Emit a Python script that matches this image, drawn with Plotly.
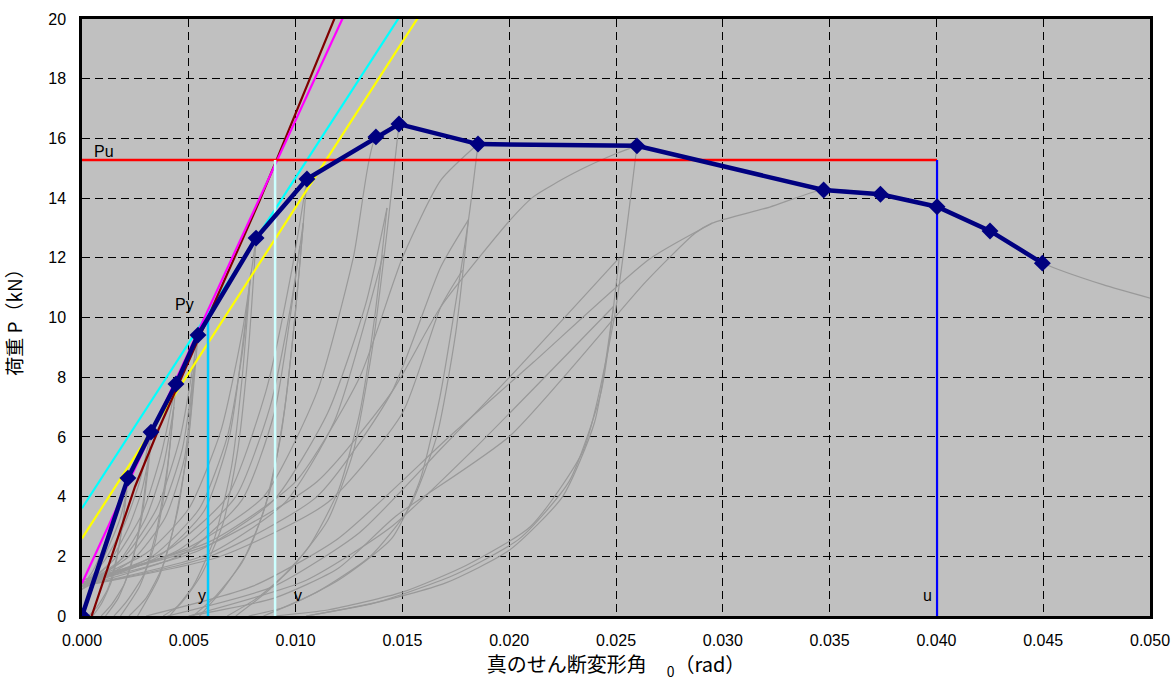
import plotly.graph_objects as go

# ---------------- data ----------------
# envelope (skeleton) curve
env_x = [0.0, 0.00215, 0.00323, 0.0044, 0.00543, 0.00815, 0.01053, 0.01376, 0.01484,
         0.01854, 0.02598, 0.03472, 0.03738, 0.04003, 0.04251, 0.04496]
env_p = [0.0, 4.62, 6.16, 7.77, 9.41, 12.66, 14.64, 16.05, 16.48,
         15.81, 15.75, 14.27, 14.13, 13.71, 12.90, 11.82]

# hysteresis branches (positive quadrant), grouped by amplitude level
lvl_a_x = [[0, 0.0005, 0.001, 0.0015, 0.00215], [0.00215, 0.0019, 0.0016, 0.0012, 0.0007, 0.0003],
           [0, 0.0007, 0.0013, 0.0018, 0.0021], [0.0021, 0.0018, 0.0014, 0.0009, 0.0005]]
lvl_a_p = [[1.0, 1.5, 2.3, 3.3, 4.62], [4.62, 3.1, 1.9, 0.9, 0.3, 0],
           [0.9, 1.5, 2.4, 3.3, 4.2], [4.2, 2.6, 1.2, 0.4, 0]]

lvl_b_x = [[0, 0.001, 0.002, 0.0027, 0.00323], [0.00323, 0.0029, 0.0025, 0.002, 0.0014, 0.0009],
           [0, 0.0012, 0.0022, 0.0028, 0.0032], [0.0032, 0.0028, 0.0023, 0.0017, 0.0011]]
lvl_b_p = [[1.0, 1.8, 3.1, 4.5, 6.16], [6.16, 4.0, 2.3, 1.1, 0.4, 0],
           [0.9, 1.7, 3.0, 4.2, 5.6], [5.6, 3.3, 1.7, 0.6, 0]]

lvl_c_x = [[0, 0.0015, 0.0028, 0.0037, 0.0044], [0.0044, 0.004, 0.0035, 0.0029, 0.0021, 0.0015],
           [0, 0.0017, 0.003, 0.0038, 0.0043], [0.0043, 0.0039, 0.0034, 0.0027, 0.0018]]
lvl_c_p = [[1.0, 1.9, 3.4, 5.4, 7.77], [7.77, 5.0, 2.9, 1.4, 0.5, 0],
           [0.9, 1.8, 3.3, 5.0, 7.0], [7.0, 4.3, 2.4, 1.0, 0]]

lvl_d_x = [[0, 0.002, 0.0035, 0.0046, 0.00543], [0.00543, 0.005, 0.0045, 0.0038, 0.003, 0.0022],
           [0, 0.0022, 0.0037, 0.0047, 0.0053], [0.0053, 0.0049, 0.0043, 0.0036, 0.0026],
           [0, 0.0024, 0.0039, 0.0048, 0.0052]]
lvl_d_p = [[1.0, 2.0, 3.6, 6.0, 9.41], [9.41, 6.0, 3.6, 1.7, 0.6, 0],
           [1.0, 2.0, 3.5, 5.6, 8.6], [8.6, 5.4, 3.0, 1.3, 0],
           [0.9, 1.9, 3.3, 5.3, 8.1]]

lvl_e_x = [[0, 0.003, 0.005, 0.0065, 0.0075, 0.00815], [0.00815, 0.0078, 0.0073, 0.0066, 0.0056, 0.0046, 0.0038],
           [0, 0.0033, 0.0055, 0.0068, 0.0075, 0.0079], [0.0079, 0.0075, 0.007, 0.0062, 0.0052, 0.0041],
           [0, 0.0036, 0.0057, 0.0069, 0.0078]]
lvl_e_p = [[1.1, 2.1, 3.6, 6.2, 9.5, 12.66], [12.66, 9.0, 5.6, 3.1, 1.4, 0.4, 0],
           [1.0, 2.0, 3.6, 6.0, 8.8, 11.5], [11.5, 8.0, 5.0, 2.6, 1.0, 0],
           [1.0, 2.0, 3.5, 6.0, 10.8]]

lvl_f_x = [[0, 0.004, 0.0068, 0.0086, 0.0098, 0.01053], [0.01053, 0.0101, 0.0095, 0.0088, 0.0078, 0.0066, 0.0055],
           [0, 0.0045, 0.0072, 0.0088, 0.0098, 0.01036], [0.01036, 0.0099, 0.0093, 0.0085, 0.0075, 0.0063, 0.0052],
           [0, 0.0048, 0.0075, 0.009, 0.0102]]
lvl_f_p = [[1.1, 2.2, 4.0, 7.5, 11.5, 14.64], [14.64, 11.0, 7.0, 4.2, 2.2, 0.9, 0],
           [1.1, 2.2, 4.0, 7.0, 10.5, 13.16], [13.16, 9.5, 6.0, 3.5, 1.8, 0.7, 0],
           [1.0, 2.1, 3.9, 6.8, 12.4]]

lvl_g_x = [[0, 0.005, 0.0085, 0.011, 0.0127, 0.01376, 0.01484],
           [0.01484, 0.0143, 0.0136, 0.0127, 0.0115, 0.0098, 0.0082, 0.0068],
           [0, 0.0055, 0.009, 0.0115, 0.0133, 0.01428],
           [0.01428, 0.0137, 0.013, 0.012, 0.0106, 0.0088, 0.0072],
           [0, 0.006, 0.0095, 0.0118, 0.0141]]
lvl_g_p = [[1.1, 2.3, 4.0, 7.5, 12.0, 16.05, 16.48],
           [16.48, 13.0, 9.0, 5.5, 3.2, 1.6, 0.6, 0],
           [1.1, 2.2, 3.9, 6.8, 10.5, 13.67],
           [13.67, 10.0, 6.8, 4.2, 2.3, 0.9, 0],
           [1.0, 2.1, 3.8, 6.5, 12.1]]

lvl_h_x = [[0, 0.006, 0.01, 0.013, 0.015, 0.0168, 0.01854],
           [0.01854, 0.0181, 0.01676, 0.0158, 0.0145, 0.012, 0.0095, 0.0078],
           [0, 0.006, 0.011, 0.0145, 0.0168, 0.01809],
           [0.01809, 0.0175, 0.0166, 0.0153, 0.0135, 0.011, 0.0085],
           [0, 0.0065, 0.0115, 0.015, 0.0168, 0.01782]]
lvl_h_p = [[1.2, 2.5, 4.5, 8.0, 12.0, 14.6, 15.81],
           [15.81, 13.3, 7.35, 4.5, 2.6, 1.2, 0.3, 0],
           [1.0, 2.0, 4.0, 7.5, 11.7, 13.27],
           [13.27, 9.5, 6.0, 3.6, 2.0, 0.8, 0],
           [1.0, 2.0, 3.8, 6.8, 10.36, 11.59]]

lvl_i_x = [[0, 0.006, 0.011, 0.0145, 0.0168, 0.02004, 0.02114, 0.02301, 0.02504, 0.02598],
           [0.02598, 0.0249, 0.02348, 0.021, 0.018, 0.015, 0.0115, 0.009],
           [0.004, 0.009, 0.013, 0.01676, 0.02004, 0.02515],
           [0.02515, 0.0243, 0.0228, 0.0205, 0.0175, 0.014, 0.0105],
           [0.005, 0.0105, 0.0145, 0.01832, 0.02488],
           [0.02488, 0.024, 0.0225, 0.02, 0.017, 0.0135, 0.0105]]
lvl_i_p = [[1.2, 2.4, 4.5, 7.5, 10.36, 13.26, 14.05, 14.83, 15.5, 15.75],
           [15.75, 9.92, 5.57, 3.0, 1.7, 0.8, 0.2, 0],
           [0, 1.0, 2.8, 5.57, 8.02, 12.0],
           [12.0, 7.5, 4.5, 2.6, 1.4, 0.5, 0],
           [0, 1.2, 3.0, 5.57, 10.37],
           [10.37, 6.5, 4.0, 2.2, 1.1, 0.4, 0]]

lvl_final_x = [[0.005, 0.009, 0.012, 0.0147, 0.02003, 0.0264, 0.0287, 0.0295, 0.0322, 0.0347,
                0.0374, 0.040, 0.0425, 0.045, 0.0478, 0.0503],
               [0.003, 0.008, 0.012, 0.01723, 0.02112, 0.02657, 0.0295]]
lvl_final_p = [[0, 0.6, 1.6, 3.35, 6.03, 11.2, 12.82, 13.16, 13.7, 14.28,
                14.13, 13.71, 12.9, 11.82, 11.1, 10.59],
               [0, 1.0, 2.6, 6.03, 8.49, 11.96, 13.16]]

# evaluation lines
pu_value = 15.28
py_value = 10.0
delta_y = 0.0059
delta_v = 0.00904
delta_u = 0.04003
maroon_x = [0.00045, 0.00248, 0.00357, 0.00833, 0.00911, 0.01192]
maroon_p = [0.0, 4.33, 6.23, 13.94, 15.28, 20.19]
magenta_x = [0.0, 0.01231]
magenta_p = [1.1, 20.19]
cyan_x = [0.0, 0.01497]
cyan_p = [3.61, 20.19]
yellow_x = [0.0, 0.01586]
yellow_p = [2.60, 20.19]

x_ticks = [0.000, 0.005, 0.010, 0.015, 0.020, 0.025, 0.030, 0.035, 0.040, 0.045, 0.050]
y_ticks = [0, 2, 4, 6, 8, 10, 12, 14, 16, 18, 20]

# ---------------- figure ----------------
fig = go.Figure()

grey = "#999999"
for xs_group, ps_group in [(lvl_a_x, lvl_a_p), (lvl_b_x, lvl_b_p), (lvl_c_x, lvl_c_p),
                           (lvl_d_x, lvl_d_p), (lvl_e_x, lvl_e_p), (lvl_f_x, lvl_f_p),
                           (lvl_g_x, lvl_g_p), (lvl_h_x, lvl_h_p), (lvl_i_x, lvl_i_p),
                           (lvl_final_x, lvl_final_p)]:
    for xs, ps in zip(xs_group, ps_group):
        fig.add_trace(go.Scatter(x=xs, y=ps, mode="lines",
                                 line=dict(color=grey, width=1.2, shape="spline", smoothing=0.6),
                                 showlegend=False, hoverinfo="skip"))

def seg(xs, ps, color, width=2.2):
    fig.add_trace(go.Scatter(x=xs, y=ps, mode="lines", line=dict(color=color, width=width),
                             showlegend=False, hoverinfo="skip"))

seg(cyan_x, cyan_p, "#00FFFF")
seg(yellow_x, yellow_p, "#FFFF00")
seg(maroon_x, maroon_p, "#800000")
seg(magenta_x, magenta_p, "#FF00FF")
seg([0, delta_u], [pu_value, pu_value], "#FF0000", 2.5)
seg([delta_u, delta_u], [0, pu_value], "#0000FF", 2.2)
seg([delta_y, delta_y], [0, py_value], "#00CCFF", 2.5)
seg([delta_v, delta_v], [0, pu_value], "#CCFFFF", 2.5)

# envelope
fig.add_trace(go.Scatter(x=env_x, y=env_p, mode="lines+markers",
                         line=dict(color="#000080", width=4.5),
                         marker=dict(symbol="diamond", size=13, color="#000080"),
                         showlegend=False, hoverinfo="skip"))

txt_font = dict(family="Liberation Sans, Arial", size=16, color="black")
fig.add_annotation(x=0.00047, y=15.55, text="Pu", showarrow=False, xanchor="left", yanchor="middle", font=txt_font)
fig.add_annotation(x=0.00478, y=10.42, text="Py", showarrow=False, xanchor="center", yanchor="middle", font=txt_font)
fig.add_annotation(x=0.00562, y=0.70, text="y", showarrow=False, xanchor="center", yanchor="middle", font=txt_font)
fig.add_annotation(x=0.01011, y=0.70, text="v", showarrow=False, xanchor="center", yanchor="middle", font=txt_font)
fig.add_annotation(x=0.03956, y=0.70, text="u", showarrow=False, xanchor="center", yanchor="middle", font=txt_font)

axis_common = dict(showgrid=True, gridcolor="black", gridwidth=1, griddash="8px,5px",
                   showline=True, linecolor="black", linewidth=2.5, mirror=True,
                   zeroline=False, ticks="", automargin=False,
                   tickfont=dict(family="Liberation Sans, Arial", size=16, color="black"))

fig.update_xaxes(range=[0, 0.05], tickvals=x_ticks, tickformat=".3f", ticklabelstandoff=8,
                 title=dict(text="真のせん断変形角　<sub>0</sub>（rad）", standoff=11,
                            font=dict(family="Noto Sans CJK JP, Liberation Sans", size=20, color="black")),
                 **axis_common)
fig.update_yaxes(range=[0, 20], tickvals=y_ticks, ticklabelstandoff=10,
                 title=dict(text="荷重 P（kN）", standoff=21,
                            font=dict(family="Noto Sans CJK JP, Liberation Sans", size=19, color="black")),
                 **axis_common)

fig.update_layout(width=1174, height=687,
                  margin=dict(l=82, r=24, t=19, b=71, autoexpand=False),
                  paper_bgcolor="white", plot_bgcolor="#C0C0C0",
                  showlegend=False)

fig.write_html("out.html")
